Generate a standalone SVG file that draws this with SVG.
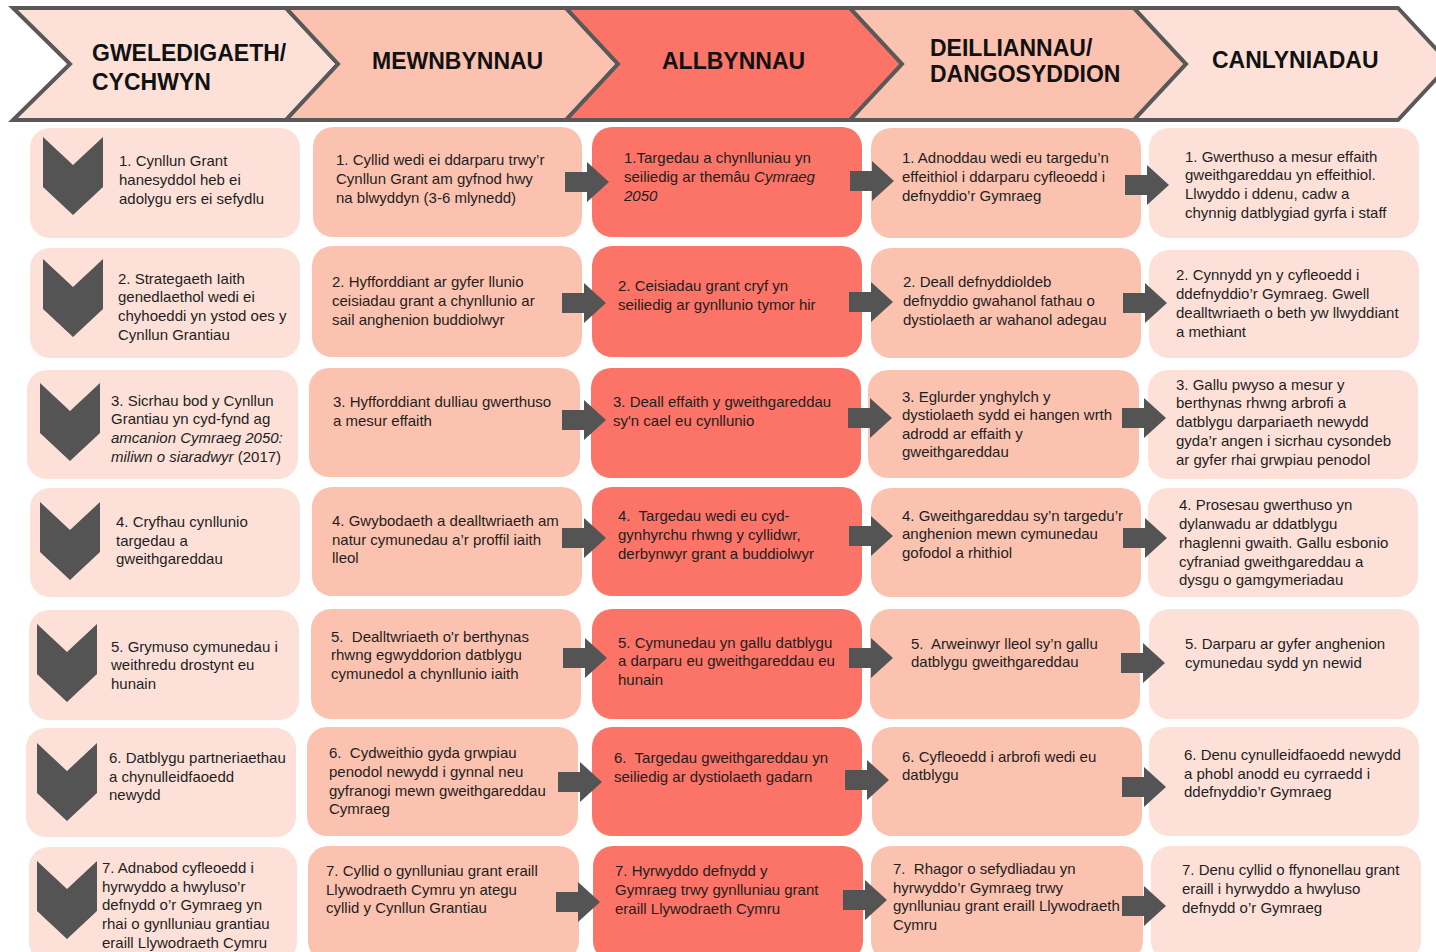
<svg xmlns="http://www.w3.org/2000/svg" width="1436" height="952" viewBox="0 0 1436 952">
<style>
.t{font-family:"Liberation Sans",Arial,sans-serif;font-size:15px;fill:#1e1e1e}
.h{font-family:"Liberation Sans",Arial,sans-serif;font-size:23px;font-weight:bold;fill:#111}
.i{font-style:italic}
.c1{fill:#fde1d9}.c2{fill:#fcc2b0}.c3{fill:#fb7467}
.hd{stroke:#595959;stroke-width:4;stroke-linejoin:miter}
.dk{fill:#545454}
</style>
<defs>
<path id="arr" class="dk" d="M0,-10 H22 V-20 L44,0 L22,20 V10 H0 Z"/>
<path id="chev" class="dk" d="M0,0 L30,28 L60,0 V50 L30,78 L0,50 Z"/>
</defs>
<rect width="1436" height="952" fill="#ffffff"/>

<g id="header">
<g id="h1"><polygon class="hd c1" points="13,8 286,8 338,64 286,120 13,120 70,64"/><text class="h" x="92" y="61">GWELEDIGAETH/</text><text class="h" x="92" y="90">CYCHWYN</text></g>
<g id="h2"><polygon class="hd c2" points="286,8 566,8 618,64 566,120 286,120 338,64"/><text class="h" x="372" y="69">MEWNBYNNAU</text></g>
<g id="h3"><polygon class="hd c3" points="566,8 850,8 902,64 850,120 566,120 618,64"/><text class="h" x="662" y="69">ALLBYNNAU</text></g>
<g id="h4"><polygon class="hd c2" points="850,8 1134,8 1186,64 1134,120 850,120 902,64"/><text class="h" x="930" y="56">DEILLIANNAU/</text><text class="h" x="930" y="82">DANGOSYDDION</text></g>
<g id="h5"><polygon class="hd c1" points="1134,8 1398,8 1450,64 1398,120 1134,120 1186,64"/><text class="h" x="1212" y="68">CANLYNIADAU</text></g>
</g>

<g id="col1">
<g id="c1r1"><rect class="c1" x="30" y="128" width="270" height="110" rx="20"/><use href="#chev" x="43" y="137"/>
<text class="t" x="119" y="166">1. Cynllun Grant</text><text class="t" x="119" y="185">hanesyddol heb ei</text><text class="t" x="119" y="204">adolygu ers ei sefydlu</text></g>
<g id="c1r2"><rect class="c1" x="30" y="248" width="270" height="110" rx="20"/><use href="#chev" x="43" y="259"/>
<text class="t" x="118" y="284">2. Strategaeth Iaith</text><text class="t" x="118" y="302">genedlaethol wedi ei</text><text class="t" x="118" y="321">chyhoeddi yn ystod oes y</text><text class="t" x="118" y="340">Cynllun Grantiau</text></g>
<g id="c1r3"><rect class="c1" x="27" y="370" width="271" height="109" rx="20"/><use href="#chev" x="40" y="383"/>
<text class="t" x="111" y="406">3. Sicrhau bod y Cynllun</text><text class="t" x="111" y="424">Grantiau yn cyd-fynd ag</text><text class="t i" x="111" y="443">amcanion Cymraeg 2050:</text><text class="t" x="111" y="462"><tspan class="i">miliwn o siaradwyr</tspan> (2017)</text></g>
<g id="c1r4"><rect class="c1" x="30" y="488" width="270" height="109" rx="20"/><use href="#chev" x="40" y="502"/>
<text class="t" x="116" y="527">4. Cryfhau cynllunio</text><text class="t" x="116" y="546">targedau a</text><text class="t" x="116" y="564">gweithgareddau</text></g>
<g id="c1r5"><rect class="c1" x="29" y="610" width="270" height="110" rx="20"/><use href="#chev" x="37" y="624"/>
<text class="t" x="111" y="652">5. Grymuso cymunedau i</text><text class="t" x="111" y="670">weithredu drostynt eu</text><text class="t" x="111" y="689">hunain</text></g>
<g id="c1r6"><rect class="c1" x="26" y="728" width="270" height="109" rx="20"/><use href="#chev" x="37" y="743"/>
<text class="t" x="109" y="763">6. Datblygu partneriaethau</text><text class="t" x="109" y="782">a chynulleidfaoedd</text><text class="t" x="109" y="800">newydd</text></g>
<g id="c1r7"><rect class="c1" x="29" y="847" width="268" height="115" rx="20"/><use href="#chev" x="37" y="861"/>
<text class="t" x="102" y="873">7. Adnabod cyfleoedd i</text><text class="t" x="102" y="892">hyrwyddo a hwyluso’r</text><text class="t" x="102" y="910">defnydd o’r Gymraeg yn</text><text class="t" x="102" y="929">rhai o gynlluniau grantiau</text><text class="t" x="102" y="948">eraill Llywodraeth Cymru</text></g>
</g>

<g id="col2">
<g id="c2r1"><rect class="c2" x="313" y="127" width="269" height="110" rx="20"/>
<text class="t" x="336" y="165">1. Cyllid wedi ei ddarparu trwy’r</text><text class="t" x="336" y="184">Cynllun Grant am gyfnod hwy</text><text class="t" x="336" y="203">na blwyddyn (3-6 mlynedd)</text></g>
<g id="c2r2"><rect class="c2" x="312" y="246" width="270" height="111" rx="20"/>
<text class="t" x="332" y="287">2. Hyfforddiant ar gyfer llunio</text><text class="t" x="332" y="306">ceisiadau grant a chynllunio ar</text><text class="t" x="332" y="325">sail anghenion buddiolwyr</text></g>
<g id="c2r3"><rect class="c2" x="309" y="368" width="271" height="109" rx="20"/>
<text class="t" x="333" y="407">3. Hyfforddiant dulliau gwerthuso</text><text class="t" x="333" y="426">a mesur effaith</text></g>
<g id="c2r4"><rect class="c2" x="312" y="487" width="270" height="109" rx="20"/>
<text class="t" x="332" y="526">4. Gwybodaeth a dealltwriaeth am</text><text class="t" x="332" y="545">natur cymunedau a’r proffil iaith</text><text class="t" x="332" y="563">lleol</text></g>
<g id="c2r5"><rect class="c2" x="311" y="609" width="270" height="110" rx="20"/>
<text class="t" x="331" y="642" xml:space="preserve">5.  Dealltwriaeth o'r berthynas</text><text class="t" x="331" y="660">rhwng egwyddorion datblygu</text><text class="t" x="331" y="679">cymunedol a chynllunio iaith</text></g>
<g id="c2r6"><rect class="c2" x="307" y="727" width="271" height="109" rx="20"/>
<text class="t" x="329" y="758" xml:space="preserve">6.  Cydweithio gyda grwpiau</text><text class="t" x="329" y="777">penodol newydd i gynnal neu</text><text class="t" x="329" y="796">gyfranogi mewn gweithgareddau</text><text class="t" x="329" y="814">Cymraeg</text></g>
<g id="c2r7"><rect class="c2" x="308" y="846" width="271" height="115" rx="20"/>
<text class="t" x="326" y="876">7. Cyllid o gynlluniau grant eraill</text><text class="t" x="326" y="895">Llywodraeth Cymru yn ategu</text><text class="t" x="326" y="913">cyllid y Cynllun Grantiau</text></g>
</g>

<g id="col3">
<g id="c3r1"><rect class="c3" x="592" y="127" width="270" height="110" rx="20"/>
<text class="t" x="624" y="163">1.Targedau a chynlluniau yn</text><text class="t" x="624" y="182">seiliedig ar themâu <tspan class="i">Cymraeg</tspan></text><text class="t i" x="624" y="201">2050</text></g>
<g id="c3r2"><rect class="c3" x="592" y="246" width="270" height="111" rx="20"/>
<text class="t" x="618" y="291">2. Ceisiadau grant cryf yn</text><text class="t" x="618" y="310">seiliedig ar gynllunio tymor hir</text></g>
<g id="c3r3"><rect class="c3" x="591" y="368" width="270" height="110" rx="20"/>
<text class="t" x="613" y="407">3. Deall effaith y gweithgareddau</text><text class="t" x="613" y="426">sy'n cael eu cynllunio</text></g>
<g id="c3r4"><rect class="c3" x="592" y="487" width="270" height="109" rx="20"/>
<text class="t" x="618" y="521" xml:space="preserve">4.  Targedau wedi eu cyd-</text><text class="t" x="618" y="540">gynhyrchu rhwng y cyllidwr,</text><text class="t" x="618" y="559">derbynwyr grant a buddiolwyr</text></g>
<g id="c3r5"><rect class="c3" x="592" y="609" width="270" height="110" rx="20"/>
<text class="t" x="618" y="648">5. Cymunedau yn gallu datblygu</text><text class="t" x="618" y="666">a darparu eu gweithgareddau eu</text><text class="t" x="618" y="685">hunain</text></g>
<g id="c3r6"><rect class="c3" x="592" y="727" width="270" height="109" rx="20"/>
<text class="t" x="614" y="763" xml:space="preserve">6.  Targedau gweithgareddau yn</text><text class="t" x="614" y="782">seiliedig ar dystiolaeth gadarn</text></g>
<g id="c3r7"><rect class="c3" x="593" y="846" width="270" height="115" rx="20"/>
<text class="t" x="615" y="876">7. Hyrwyddo defnydd y</text><text class="t" x="615" y="895">Gymraeg trwy gynlluniau grant</text><text class="t" x="615" y="914">eraill Llywodraeth Cymru</text></g>
</g>

<g id="col4">
<g id="c4r1"><rect class="c2" x="871" y="128" width="270" height="110" rx="20"/>
<text class="t" x="902" y="163">1. Adnoddau wedi eu targedu’n</text><text class="t" x="902" y="182">effeithiol i ddarparu cyfleoedd i</text><text class="t" x="902" y="201">defnyddio’r Gymraeg</text></g>
<g id="c4r2"><rect class="c2" x="871" y="248" width="270" height="110" rx="20"/>
<text class="t" x="903" y="287">2. Deall defnyddioldeb</text><text class="t" x="903" y="306">defnyddio gwahanol fathau o</text><text class="t" x="903" y="325">dystiolaeth ar wahanol adegau</text></g>
<g id="c4r3"><rect class="c2" x="868" y="370" width="271" height="108" rx="20"/>
<text class="t" x="902" y="402">3. Eglurder ynghylch y</text><text class="t" x="902" y="420">dystiolaeth sydd ei hangen wrth</text><text class="t" x="902" y="439">adrodd ar effaith y</text><text class="t" x="902" y="457">gweithgareddau</text></g>
<g id="c4r4"><rect class="c2" x="871" y="488" width="270" height="109" rx="20"/>
<text class="t" x="902" y="521">4. Gweithgareddau sy’n targedu’r</text><text class="t" x="902" y="539">anghenion mewn cymunedau</text><text class="t" x="902" y="558">gofodol a rhithiol</text></g>
<g id="c4r5"><rect class="c2" x="870" y="609" width="270" height="110" rx="20"/>
<text class="t" x="911" y="649" xml:space="preserve">5.  Arweinwyr lleol sy’n gallu</text><text class="t" x="911" y="667">datblygu gweithgareddau</text></g>
<g id="c4r6"><rect class="c2" x="872" y="727" width="270" height="109" rx="20"/>
<text class="t" x="902" y="762">6. Cyfleoedd i arbrofi wedi eu</text><text class="t" x="902" y="780">datblygu</text></g>
<g id="c4r7"><rect class="c2" x="871" y="846" width="272" height="115" rx="20"/>
<text class="t" x="893" y="874" xml:space="preserve">7.  Rhagor o sefydliadau yn</text><text class="t" x="893" y="893">hyrwyddo’r Gymraeg trwy</text><text class="t" x="893" y="911">gynlluniau grant eraill Llywodraeth</text><text class="t" x="893" y="930">Cymru</text></g>
</g>

<g id="col5">
<g id="c5r1"><rect class="c1" x="1149" y="128" width="270" height="110" rx="20"/>
<text class="t" x="1185" y="162">1. Gwerthuso a mesur effaith</text><text class="t" x="1185" y="180">gweithgareddau yn effeithiol.</text><text class="t" x="1185" y="199">Llwyddo i ddenu, cadw a</text><text class="t" x="1185" y="218">chynnig datblygiad gyrfa i staff</text></g>
<g id="c5r2"><rect class="c1" x="1149" y="250" width="270" height="108" rx="20"/>
<text class="t" x="1176" y="280">2. Cynnydd yn y cyfleoedd i</text><text class="t" x="1176" y="299">ddefnyddio’r Gymraeg. Gwell</text><text class="t" x="1176" y="318">dealltwriaeth o beth yw llwyddiant</text><text class="t" x="1176" y="337">a methiant</text></g>
<g id="c5r3"><rect class="c1" x="1148" y="370" width="270" height="109" rx="20"/>
<text class="t" x="1176" y="390">3. Gallu pwyso a mesur y</text><text class="t" x="1176" y="408">berthynas rhwng arbrofi a</text><text class="t" x="1176" y="427">datblygu darpariaeth newydd</text><text class="t" x="1176" y="446">gyda’r angen i sicrhau cysondeb</text><text class="t" x="1176" y="465">ar gyfer rhai grwpiau penodol</text></g>
<g id="c5r4"><rect class="c1" x="1148" y="488" width="270" height="109" rx="20"/>
<text class="t" x="1179" y="510">4. Prosesau gwerthuso yn</text><text class="t" x="1179" y="529">dylanwadu ar ddatblygu</text><text class="t" x="1179" y="548">rhaglenni gwaith. Gallu esbonio</text><text class="t" x="1179" y="567">cyfraniad gweithgareddau a</text><text class="t" x="1179" y="585">dysgu o gamgymeriadau</text></g>
<g id="c5r5"><rect class="c1" x="1149" y="609" width="270" height="110" rx="20"/>
<text class="t" x="1185" y="649">5. Darparu ar gyfer anghenion</text><text class="t" x="1185" y="668">cymunedau sydd yn newid</text></g>
<g id="c5r6"><rect class="c1" x="1149" y="727" width="270" height="109" rx="20"/>
<text class="t" x="1184" y="760">6. Denu cynulleidfaoedd newydd</text><text class="t" x="1184" y="779">a phobl anodd eu cyrraedd i</text><text class="t" x="1184" y="797">ddefnyddio’r Gymraeg</text></g>
<g id="c5r7"><rect class="c1" x="1151" y="846" width="270" height="115" rx="20"/>
<text class="t" x="1182" y="875">7. Denu cyllid o ffynonellau grant</text><text class="t" x="1182" y="894">eraill i hyrwyddo a hwyluso</text><text class="t" x="1182" y="913">defnydd o’r Gymraeg</text></g>
</g>

<g id="connectors">
<use href="#arr" x="565" y="182"/><use href="#arr" x="562" y="303"/><use href="#arr" x="562" y="420"/><use href="#arr" x="562" y="538"/><use href="#arr" x="563" y="658"/><use href="#arr" x="558" y="782"/><use href="#arr" x="556" y="902"/>
<use href="#arr" x="850" y="181"/><use href="#arr" x="849" y="302"/><use href="#arr" x="848" y="418"/><use href="#arr" x="849" y="536"/><use href="#arr" x="849" y="658"/><use href="#arr" x="845" y="780"/><use href="#arr" x="843" y="900"/>
<use href="#arr" x="1125" y="185"/><use href="#arr" x="1123" y="303"/><use href="#arr" x="1122" y="418"/><use href="#arr" x="1123" y="538"/><use href="#arr" x="1121" y="663"/><use href="#arr" x="1122" y="787"/><use href="#arr" x="1122" y="906"/>
</g>
</svg>
